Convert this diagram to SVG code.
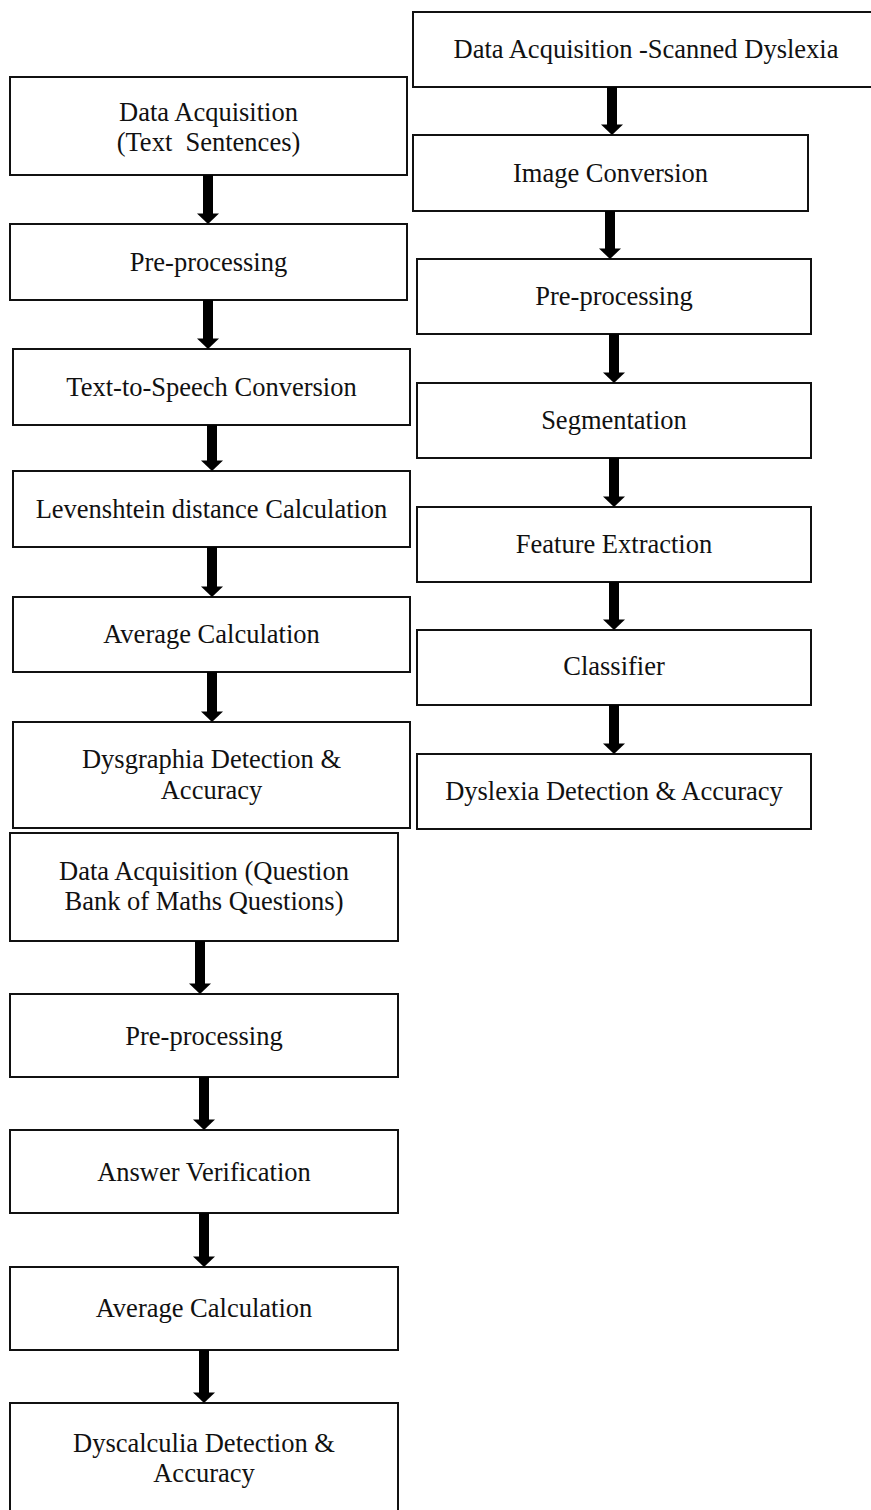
<svg xmlns="http://www.w3.org/2000/svg" width="871" height="1510" viewBox="0 0 871 1510">
<defs>
<style>
.box{fill:#fff;stroke:#111;stroke-width:2}
.t{font-family:"Liberation Serif","Times New Roman",serif;font-size:26.5px;fill:#111;text-anchor:middle}
.arr{fill:#000}
</style>
<polygon id="ar" points="-11,-10.5 11,-10.5 0,0"/>
</defs>
<rect width="871" height="1510" fill="#fff"/>

<g id="L1"><rect class="box" x="10" y="77" width="397" height="98"/><text class="t" x="208.5" y="121">Data Acquisition</text><text class="t" x="208.5" y="151" xml:space="preserve">(Text  Sentences)</text></g>
<g id="L2"><rect class="box" x="10" y="224" width="397" height="76"/><text class="t" x="208.5" y="271">Pre-processing</text></g>
<g id="L3"><rect class="box" x="13" y="349" width="397" height="76"/><text class="t" x="211.5" y="396">Text-to-Speech Conversion</text></g>
<g id="L4"><rect class="box" x="13" y="471" width="397" height="76"/><text class="t" x="211.5" y="518">Levenshtein distance Calculation</text></g>
<g id="L5"><rect class="box" x="13" y="597" width="397" height="75"/><text class="t" x="211.5" y="643">Average Calculation</text></g>
<g id="L6"><rect class="box" x="13" y="722" width="397" height="106"/><text class="t" x="211.5" y="768">Dysgraphia Detection &amp;</text><text class="t" x="211.5" y="799">Accuracy</text></g>
<g id="L7"><rect class="box" x="10" y="833" width="388" height="108"/><text class="t" x="204" y="880">Data Acquisition (Question</text><text class="t" x="204" y="910">Bank of Maths Questions)</text></g>
<g id="L8"><rect class="box" x="10" y="994" width="388" height="83"/><text class="t" x="204" y="1045">Pre-processing</text></g>
<g id="L9"><rect class="box" x="10" y="1130" width="388" height="83"/><text class="t" x="204" y="1181">Answer Verification</text></g>
<g id="L10"><rect class="box" x="10" y="1267" width="388" height="83"/><text class="t" x="204" y="1317">Average Calculation</text></g>
<g id="L11"><rect class="box" x="10" y="1403" width="388" height="130"/><text class="t" x="204" y="1452">Dyscalculia Detection &amp;</text><text class="t" x="204" y="1482">Accuracy</text></g>

<g id="R1"><rect class="box" x="413" y="12" width="470" height="75"/><text class="t" x="646" y="58">Data Acquisition -Scanned Dyslexia</text></g>
<g id="R2"><rect class="box" x="413" y="135" width="395" height="76"/><text class="t" x="610.5" y="182">Image Conversion</text></g>
<g id="R3"><rect class="box" x="417" y="259" width="394" height="75"/><text class="t" x="614" y="305">Pre-processing</text></g>
<g id="R4"><rect class="box" x="417" y="383" width="394" height="75"/><text class="t" x="614" y="429">Segmentation</text></g>
<g id="R5"><rect class="box" x="417" y="507" width="394" height="75"/><text class="t" x="614" y="553">Feature Extraction</text></g>
<g id="R6"><rect class="box" x="417" y="630" width="394" height="75"/><text class="t" x="614" y="675">Classifier</text></g>
<g id="R7"><rect class="box" x="417" y="754" width="394" height="75"/><text class="t" x="614" y="800">Dyslexia Detection &amp; Accuracy</text></g>

<g id="connectors" class="arr">
<rect x="203" y="175" width="10" height="40"/><use href="#ar" x="208" y="224"/>
<rect x="203" y="300" width="10" height="40"/><use href="#ar" x="208" y="349"/>
<rect x="207" y="425" width="10" height="37"/><use href="#ar" x="212" y="471"/>
<rect x="207" y="547" width="10" height="41"/><use href="#ar" x="212" y="597"/>
<rect x="207" y="672" width="10" height="41"/><use href="#ar" x="212" y="722"/>
<rect x="195" y="941" width="10" height="44"/><use href="#ar" x="200" y="994"/>
<rect x="199" y="1077" width="10" height="44"/><use href="#ar" x="204" y="1130"/>
<rect x="199" y="1213" width="10" height="45"/><use href="#ar" x="204" y="1267"/>
<rect x="199" y="1350" width="10" height="44"/><use href="#ar" x="204" y="1403"/>
<rect x="607" y="87" width="10" height="39"/><use href="#ar" x="612" y="135"/>
<rect x="605" y="211" width="10" height="39"/><use href="#ar" x="610" y="259"/>
<rect x="609" y="334" width="10" height="40"/><use href="#ar" x="614" y="383"/>
<rect x="609" y="458" width="10" height="40"/><use href="#ar" x="614" y="507"/>
<rect x="609" y="582" width="10" height="39"/><use href="#ar" x="614" y="630"/>
<rect x="609" y="705" width="10" height="40"/><use href="#ar" x="614" y="754"/>
</g>
</svg>
